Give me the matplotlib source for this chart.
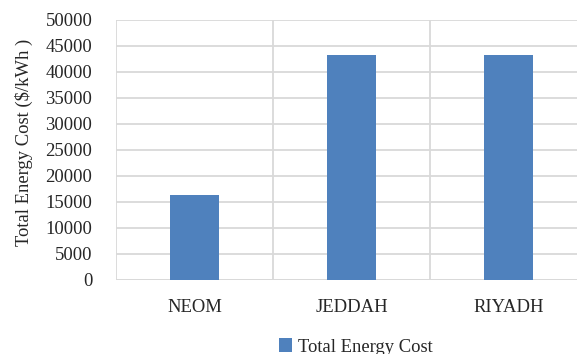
import matplotlib
matplotlib.use("Agg")
import matplotlib.pyplot as plt
from matplotlib.ticker import FixedLocator
import numpy as np

cities = ["NEOM", "JEDDAH", "RIYADH"]
total_energy_cost = [16400, 43200, 43200]
y_ticks = [0, 5000, 10000, 15000, 20000, 25000, 30000, 35000, 40000, 45000, 50000]

plt.rcParams['font.family'] = ['Liberation Serif', 'DejaVu Serif']

W, H = 577, 354
fig = plt.figure(figsize=(W / 100, H / 100), dpi=100)
left, right, top, bottom = 116, 587, 20, 280
ax = fig.add_axes([left / W, 1 - bottom / H, (right - left) / W, (bottom - top) / H])

x = np.arange(len(cities))
ax.bar(x, total_energy_cost, width=0.31, color="#4F81BD", zorder=3,
       label="Total Energy Cost")

ax.set_xlim(-0.5, len(cities) - 0.5)
ax.set_ylim(0, 50000)
ax.set_yticks(y_ticks)
ax.set_yticklabels([str(v) for v in y_ticks], fontsize=13.4, color="#262626")
ax.set_xticks(x)
ax.set_xticklabels(cities, fontsize=13.4, color="#262626")
ax.xaxis.set_minor_locator(FixedLocator(np.arange(-0.5, len(cities), 1.0)))

ax.tick_params(axis="both", which="both", length=0)
ax.tick_params(axis="x", pad=14)
ax.tick_params(axis="y", pad=17)

ax.grid(axis="y", which="major", color="#D9D9D9", linewidth=1.3, zorder=0)
ax.grid(axis="x", which="minor", color="#D9D9D9", linewidth=1.3, zorder=0)
ax.grid(axis="x", which="major", visible=False)
for s in ax.spines.values():
    s.set_visible(False)
ax.axhline(0, color="#D9D9D9", linewidth=1.3, zorder=2)

ax.set_ylabel("Total Energy Cost ($/kWh )", fontsize=13.4, color="#262626")
ax.yaxis.set_label_coords(-0.176, 0.529)

fig.legend(loc="center", bbox_to_anchor=(356 / W, 1 - 347 / H), frameon=False,
           fontsize=13.4, handlelength=0.7, handleheight=0.7, handletextpad=0.3,
           labelcolor="#262626")

fig.savefig("out.png", dpi=100)
